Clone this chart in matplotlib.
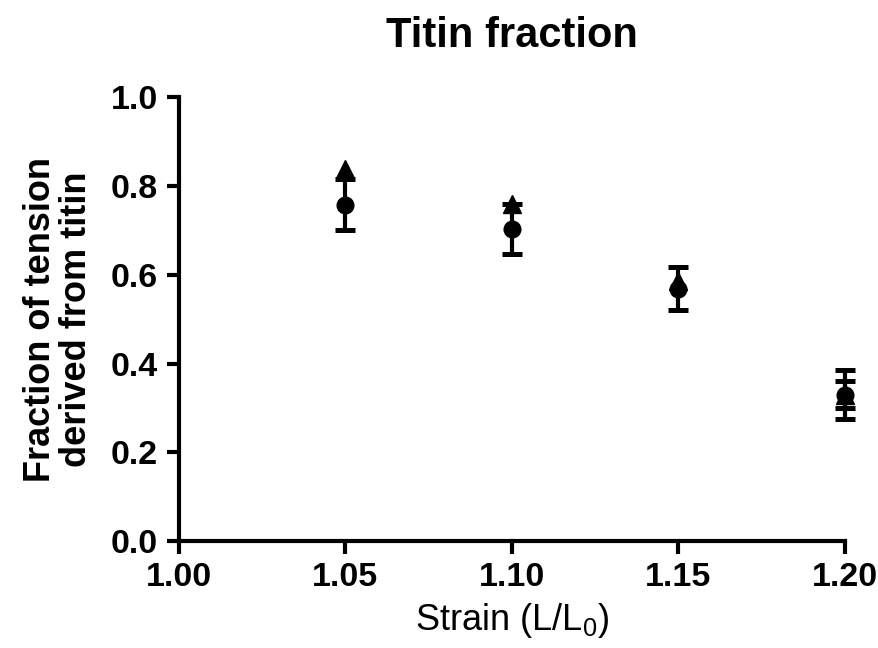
import numpy as np
import matplotlib
matplotlib.use("Agg")
import matplotlib.pyplot as plt

plt.rcParams['font.family'] = ['Liberation Sans', 'DejaVu Sans']
plt.rcParams['mathtext.default'] = 'regular'

# data
strain = [1.05, 1.10, 1.15, 1.20]
circ_mean = [0.758, 0.703, 0.569, 0.330]
circ_sem = [0.058, 0.056, 0.048, 0.055]
tri_mean = [0.838, 0.760, 0.585, 0.330]
tri_sem = [0.0, 0.0, 0.0, 0.031]   # bars shorter than the marker are hidden

xticks = [1.00, 1.05, 1.10, 1.15, 1.20]
yticks = [0.0, 0.2, 0.4, 0.6, 0.8, 1.0]

fig = plt.figure(figsize=(8.79, 6.48), dpi=100)
ax = fig.add_axes([0.2036, 0.165, 0.7577, 0.685])

lw = 3.0
x = np.array(strain)
tm = np.array(tri_mean)
ts = np.array(tri_sem)
show = ts > 0

# triangles
ax.plot(x, tm, linestyle='none', marker='^', markersize=13, color='black',
        zorder=3, clip_on=False)
ax.errorbar(x[show], tm[show], yerr=ts[show], fmt='none', ecolor='black',
            elinewidth=lw, capsize=7, capthick=lw + 0.6, zorder=3, clip_on=False)

# circles
ax.errorbar(strain, circ_mean, yerr=circ_sem, fmt='o', color='black',
            markersize=12, elinewidth=lw, capsize=7, capthick=lw + 0.6,
            zorder=4, clip_on=False)

ax.set_xlim(1.00, 1.20)
ax.set_ylim(0.0, 1.0)
ax.set_xticks(xticks)
ax.set_xticklabels(['%.2f' % v for v in xticks])
ax.set_yticks(yticks)
ax.set_yticklabels(['%.1f' % v for v in yticks])

for s in ['top', 'right']:
    ax.spines[s].set_visible(False)
for s in ['left', 'bottom']:
    ax.spines[s].set_linewidth(lw)
    ax.spines[s].set_capstyle('projecting')
ax.tick_params(width=lw, length=9, labelsize=24.5, pad=6)
for lab in ax.get_xticklabels() + ax.get_yticklabels():
    lab.set_fontweight('bold')

ax.set_title('Titin fraction', fontsize=30, fontweight='bold', pad=36)
ax.set_xlabel('Strain (L/L$_0$)', fontsize=26, labelpad=6)
ax.set_ylabel('Fraction of tension\nderived from titin', fontsize=26,
              fontweight='bold', labelpad=12, linespacing=1.05)

fig.savefig('out.png', dpi=100)
